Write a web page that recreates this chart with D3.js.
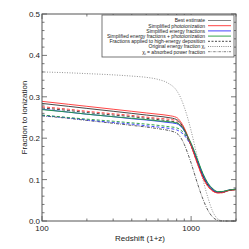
<html>
<head>
<script src="https://d3js.org/d3.v7.min.js"></script>
<style>
body { margin: 0; background: #fff; }
text { font-family: "Liberation Sans", Arial, sans-serif; }
</style>
</head>
<body>
<script>
// redshift grid (1+z)
var zs = [100, 150, 200, 300, 400, 500, 600, 700, 800, 850, 900, 950, 1000, 1100, 1200, 1300, 1400, 1500, 1600, 1700, 1800, 1900, 2000];

var bestSolid   = [0.284, 0.277, 0.272, 0.265, 0.260, 0.256, 0.253, 0.250, 0.245, 0.236, 0.222, 0.203, 0.183, 0.143, 0.108, 0.086, 0.074, 0.069, 0.069, 0.071, 0.074, 0.075, 0.076];
var photoSolid  = [0.289, 0.282, 0.277, 0.270, 0.265, 0.261, 0.258, 0.255, 0.250, 0.240, 0.225, 0.205, 0.182, 0.139, 0.104, 0.083, 0.072, 0.068, 0.068, 0.071, 0.074, 0.075, 0.076];
var energySolid = [0.270, 0.263, 0.258, 0.252, 0.247, 0.244, 0.241, 0.238, 0.235, 0.229, 0.218, 0.202, 0.186, 0.147, 0.112, 0.089, 0.076, 0.070, 0.070, 0.072, 0.075, 0.076, 0.077];
var bothSolid   = [0.269, 0.263, 0.258, 0.252, 0.248, 0.245, 0.242, 0.240, 0.237, 0.231, 0.220, 0.204, 0.188, 0.150, 0.115, 0.091, 0.078, 0.071, 0.071, 0.073, 0.075, 0.076, 0.077];

var bestDash    = [0.273, 0.267, 0.262, 0.256, 0.252, 0.248, 0.245, 0.242, 0.238, 0.231, 0.218, 0.200, 0.182, 0.143, 0.108, 0.086, 0.074, 0.069, 0.069, 0.071, 0.074, 0.075, 0.076];
var photoDash   = [0.276, 0.270, 0.265, 0.259, 0.255, 0.251, 0.248, 0.246, 0.242, 0.234, 0.220, 0.202, 0.182, 0.140, 0.105, 0.083, 0.072, 0.068, 0.068, 0.071, 0.074, 0.075, 0.076];
var energyDash  = [0.255, 0.249, 0.244, 0.238, 0.234, 0.230, 0.227, 0.224, 0.220, 0.215, 0.207, 0.195, 0.182, 0.146, 0.112, 0.089, 0.076, 0.070, 0.070, 0.072, 0.075, 0.076, 0.077];
var bothDash    = [0.256, 0.250, 0.246, 0.241, 0.237, 0.234, 0.231, 0.228, 0.225, 0.220, 0.211, 0.198, 0.184, 0.148, 0.113, 0.090, 0.077, 0.071, 0.071, 0.073, 0.075, 0.076, 0.077];

var originalChi = [0.360, 0.358, 0.356, 0.353, 0.350, 0.347, 0.342, 0.333, 0.315, 0.298, 0.275, 0.248, 0.218, 0.155, 0.100, 0.055, 0.022, 0.006, 0.001, 0.000, 0.000, 0.000, 0.000];
var absorbedChi = [0.254, 0.248, 0.243, 0.236, 0.231, 0.227, 0.223, 0.219, 0.212, 0.202, 0.185, 0.163, 0.140, 0.092, 0.053, 0.025, 0.009, 0.002, 0.000, 0.000, 0.000, 0.000, 0.000];

var legendLabels = ["Best estimate", "Simplified photoionization", "Simplified energy fractions",
  "Simplified energy fractions + photoionization", "Fractions applied to high-energy deposition",
  "Original energy fraction \u03c7", "\u03c7 = absorbed power fraction"];

var yTicks = [0.0, 0.1, 0.2, 0.3, 0.4, 0.5];
var xTicks = [100, 1000];

var W = 249, H = 249;
var mLeft = 42, mRight = 236, mTop = 14, mBottom = 221;

var svg = d3.select("body").append("svg").attr("width", W).attr("height", H);

var x = d3.scaleLog().domain([100, 2000]).range([mLeft, mRight]);
var y = d3.scaleLinear().domain([0, 0.5]).range([mBottom, mTop]);

var black = "#333", red = "#ff3030", blue = "#3030ff", green = "#1f9a3a", gray = "#777";

var curves = [
  {v: originalChi, c: gray, d: "1,1.5", w: 0.8},
  {v: absorbedChi, c: black, d: "3,1.2,0.8,1.2", w: 0.8},
  {v: energyDash, c: blue, d: "3,2", w: 0.9},
  {v: bothDash, c: green, d: "3,2", w: 0.9},
  {v: bestDash, c: black, d: "3,2", w: 0.9},
  {v: photoDash, c: red, d: "3,2", w: 0.9},
  {v: bestSolid, c: black, d: null, w: 0.9},
  {v: energySolid, c: blue, d: null, w: 0.9},
  {v: photoSolid, c: red, d: null, w: 0.9},
  {v: bothSolid, c: green, d: null, w: 0.9}
];

var line = d3.line()
  .x(function (d) { return x(d[0]); })
  .y(function (d) { return y(d[1]); })
  .curve(d3.curveMonotoneX);

svg.selectAll("path.curve").data(curves).enter().append("path")
  .attr("class", "curve")
  .attr("fill", "none")
  .attr("stroke", function (d) { return d.c; })
  .attr("stroke-width", function (d) { return d.w; })
  .attr("stroke-dasharray", function (d) { return d.d; })
  .attr("d", function (d) { return line(zs.map(function (z, i) { return [z, d.v[i]]; })); });

// frame and ticks (pointing inward, mirrored)
var axisCol = "#555";
var g = svg.append("g");
var yMinor = d3.range(0, 0.5001, 0.02);
yMinor.forEach(function (t) {
  var major = Math.abs(t * 10 - Math.round(t * 10)) < 1e-6;
  var len = major ? 5 : 2.5;
  g.append("line").attr("x1", mLeft).attr("x2", mLeft + len).attr("y1", y(t)).attr("y2", y(t))
    .attr("stroke", axisCol).attr("stroke-width", 0.8);
  g.append("line").attr("x1", mRight).attr("x2", mRight - len).attr("y1", y(t)).attr("y2", y(t))
    .attr("stroke", axisCol).attr("stroke-width", 0.8);
});
var xMinor = [100, 200, 300, 400, 500, 600, 700, 800, 900, 1000, 2000];
xMinor.forEach(function (t) {
  var len = xTicks.indexOf(t) >= 0 ? 5 : 2.5;
  g.append("line").attr("x1", x(t)).attr("x2", x(t)).attr("y1", mBottom).attr("y2", mBottom - len)
    .attr("stroke", axisCol).attr("stroke-width", 0.8);
  g.append("line").attr("x1", x(t)).attr("x2", x(t)).attr("y1", mTop).attr("y2", mTop + len)
    .attr("stroke", axisCol).attr("stroke-width", 0.8);
});
g.append("rect").attr("x", mLeft).attr("y", mTop).attr("width", mRight - mLeft).attr("height", mBottom - mTop)
  .attr("fill", "none").attr("stroke", axisCol).attr("stroke-width", 1);

g.selectAll("text.yt").data(yTicks).enter().append("text")
  .attr("x", mLeft - 2).attr("y", function (d) { return y(d) + 3; })
  .attr("text-anchor", "end").attr("font-size", 8).attr("fill", "#222")
  .text(function (d) { return d.toFixed(1); });
g.selectAll("text.xt").data(xTicks).enter().append("text")
  .attr("x", function (d) { return x(d); }).attr("y", mBottom + 10)
  .attr("text-anchor", "middle").attr("font-size", 8).attr("fill", "#222")
  .text(function (d) { return d; });

svg.append("text").attr("x", 140).attr("y", 241).attr("text-anchor", "middle")
  .attr("font-size", 8).attr("fill", "#222").text("Redshift (1+z)");
svg.append("text").attr("transform", "translate(27," + ((mTop + mBottom) / 2) + ") rotate(-90)")
  .attr("text-anchor", "middle").attr("font-size", 8).attr("fill", "#222").text("Fraction to ionization");

// legend
var lg = svg.append("g");
lg.append("rect").attr("x", 102).attr("y", 15).attr("width", 132).attr("height", 42)
  .attr("fill", "#fff").attr("stroke", axisCol).attr("stroke-width", 0.8);
var legendStyle = [
  {c: gray, d: null}, {c: red, d: null}, {c: blue, d: null}, {c: green, d: null},
  {c: black, d: "2,1.5"}, {c: gray, d: "1,1.2"}, {c: gray, d: "2.5,1,0.7,1"}
];
legendLabels.forEach(function (lab, i) {
  var ly = 20.5 + i * 5.2;
  var t = lg.append("text").attr("x", 205).attr("y", ly + 1.8).attr("text-anchor", "end")
    .attr("font-size", 5).attr("fill", "#222");
  if (i === 5) {
    t.text("Original energy fraction \u03c7");
    t.append("tspan").attr("font-size", 3.5).attr("dy", 1).text("i");
  } else if (i === 6) {
    t.text("\u03c7");
    t.append("tspan").attr("font-size", 3.5).attr("dy", 1).text("i");
    t.append("tspan").attr("dy", -1).text(" = absorbed power fraction");
  } else {
    t.text(lab);
  }
  lg.append("line").attr("x1", 208).attr("x2", 231).attr("y1", ly).attr("y2", ly)
    .attr("stroke", legendStyle[i].c).attr("stroke-width", 0.9)
    .attr("stroke-dasharray", legendStyle[i].d);
});
</script>
</body>
</html>
